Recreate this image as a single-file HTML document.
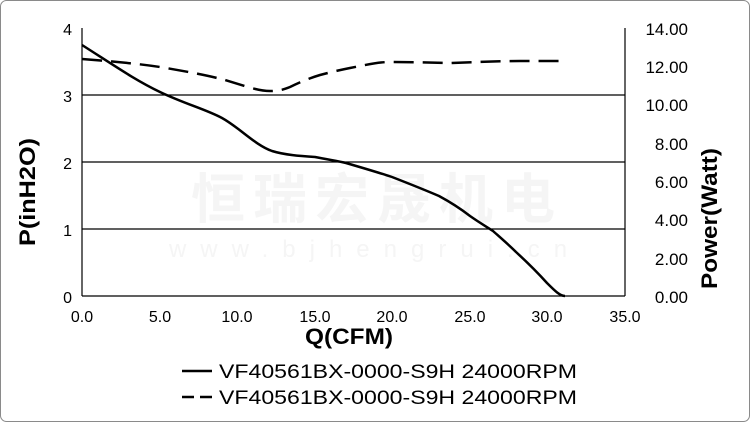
<!DOCTYPE html>
<html><head><style>
body{margin:0;background:#fff}
svg{display:block}
text{font-family:"Liberation Sans",Arial,sans-serif}
</style></head><body>
<svg width="750" height="422" viewBox="0 0 750 422">
<rect x="0.5" y="0.5" width="749" height="421" rx="6" fill="#fff" stroke="#8a8a8a"/>
<text x="377" y="218" font-size="54" font-weight="bold" fill="#f5f5f5" text-anchor="middle" letter-spacing="8" style="font-family:'Noto Sans CJK SC',sans-serif">恒瑞宏晟机电</text>
<text x="375" y="257" font-size="24" fill="#f5f5f5" text-anchor="middle" letter-spacing="14">www.bjhengrui.cn</text>
<g stroke="#000" stroke-width="1.2">
<line x1="82" y1="95" x2="625" y2="95"/>
<line x1="82" y1="162" x2="625" y2="162"/>
<line x1="82" y1="229" x2="625" y2="229"/>
<line x1="82" y1="28" x2="82" y2="296"/>
<line x1="625" y1="28" x2="625" y2="296"/>
<line x1="82" y1="296" x2="625" y2="296"/>
</g>
<g font-size="16" text-anchor="end">
<text x="72" y="35">4</text><text x="72" y="102">3</text><text x="72" y="169">2</text><text x="72" y="236">1</text><text x="72" y="303">0</text>
</g>
<g font-size="17" text-anchor="end">
<text x="688" y="35">14.00</text><text x="688" y="73">12.00</text><text x="688" y="111">10.00</text><text x="688" y="150">8.00</text><text x="688" y="188">6.00</text><text x="688" y="226">4.00</text><text x="688" y="265">2.00</text><text x="688" y="303">0.00</text>
</g>
<g font-size="16" text-anchor="middle">
<text x="82" y="322">0.0</text><text x="160" y="322">5.0</text><text x="237" y="322">10.0</text><text x="315" y="322">15.0</text><text x="392" y="322">20.0</text><text x="470" y="322">25.0</text><text x="547" y="322">30.0</text><text x="625" y="322">35.0</text>
</g>
<text x="305" y="344" font-size="22" font-weight="bold" textLength="88" lengthAdjust="spacingAndGlyphs">Q(CFM)</text>
<text transform="translate(35,246) rotate(-90)" font-size="22" font-weight="bold" textLength="108" lengthAdjust="spacingAndGlyphs">P(inH2O)</text>
<text transform="translate(717,289) rotate(-90)" font-size="22" font-weight="bold" textLength="141" lengthAdjust="spacingAndGlyphs">Power(Watt)</text>
<path d="M82,45 C115,66 135,80 160,92 C185,104 205,109 222,118 C240,128 255,145 272,151 C285,155 300,156 315,157 C330,160 338,161 346,163 C370,170 380,173 392,177 C410,184 425,190 439,196 C452,203 461,209 470,216 C480,223 487,227 493,231 C502,239 509,245 516,252 C528,263 538,273 547,283 C555,291 560,296 565,296" fill="none" stroke="#000" stroke-width="2.5"/>
<path d="M82,59 C120,62 140,64 160,67 C190,72 210,76 225,80 C245,86 258,91 270,91 C280,91 285,89 290,87 C300,82 310,78 320,75 C335,71 345,69 350,68 C370,64 380,62 390,62 C420,62 440,63 450,63 C480,62 500,61 520,61 L567,61" fill="none" stroke="#000" stroke-width="2.5" stroke-dasharray="20,9"/>
<line x1="182" y1="371" x2="212" y2="371" stroke="#000" stroke-width="2.5"/>
<text x="219" y="378" font-size="19" textLength="358" lengthAdjust="spacingAndGlyphs">VF40561BX-0000-S9H 24000RPM</text>
<line x1="182" y1="397" x2="212" y2="397" stroke="#000" stroke-width="2.5" stroke-dasharray="12,6"/>
<text x="219" y="404" font-size="19" textLength="358" lengthAdjust="spacingAndGlyphs">VF40561BX-0000-S9H 24000RPM</text>
</svg>
</body></html>
